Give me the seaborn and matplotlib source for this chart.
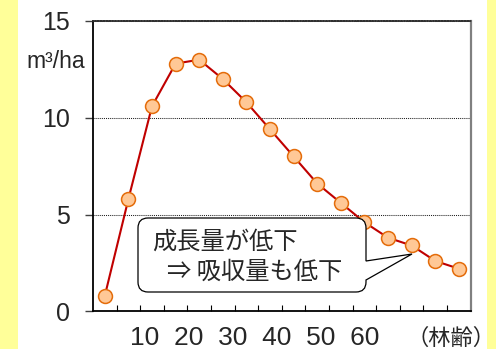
import numpy as np
import pandas as pd
import matplotlib
matplotlib.use("Agg")
import matplotlib.pyplot as plt
import seaborn as sns
from matplotlib.patches import Rectangle, PathPatch
from matplotlib.path import Path

# Annual growth (m³/ha) per 5-year age class
age_class_end = [5, 10, 15, 20, 25, 30, 35, 40, 45, 50, 55, 60, 65, 70, 75, 80]
growth = [0.8, 5.8, 10.6, 12.8, 13.0, 12.0, 10.8, 9.4, 8.0, 6.6, 5.6, 4.6, 3.8, 3.4, 2.6, 2.2]
age_labels = ["10", "20", "30", "40", "50", "60"]
age_title = "（林齢）"
y_ticks = [0, 5, 10, 15]
unit_label = "m³/ha"
note_lines = ["成長量が低下", "⇒ 吸収量も低下"]

sns.set_style("white")
plt.rcParams["font.family"] = ["Liberation Sans", "Noto Sans CJK JP", "DejaVu Sans"]

W, H = 496, 349
fig = plt.figure(figsize=(W / 100, H / 100), dpi=100, facecolor="#FFFF99")

def fx(x):
    return x / W

def fy(y):
    return (H - y) / H

# white panel on the yellow slide background
fig.patches.append(Rectangle((fx(17.5), 0), fx(487) - fx(17.5), 1,
                             transform=fig.transFigure, facecolor="white",
                             edgecolor="none", zorder=-5))

ax = fig.add_axes([fx(93), fy(311.3), fx(470.7) - fx(93), fy(21) - fy(311.3)])
ax.set_facecolor("white")
ax.set_zorder(1)

df = pd.DataFrame({"cls": np.arange(len(growth)), "age": age_class_end, "growth": growth})
sns.lineplot(data=df, x="cls", y="growth", ax=ax, color="#C00000", linewidth=1.5,
             marker="o", markersize=10, markerfacecolor="#FFC896",
             markeredgecolor="#E46C0A", markeredgewidth=1.1, zorder=5)

ax.set_xlim(-0.5, len(growth) - 0.5)
ax.set_ylim(0, 15)
ax.set_xlabel("")
ax.set_ylabel("")

ax.set_yticks(y_ticks)
ax.tick_params(axis="y", direction="out", length=5.8, width=1, pad=10.5,
               labelsize=18, color="#404040", left=True)
ax.set_xticks([])
ax.set_xticks(np.arange(0.5, len(growth) - 0.5, 1), minor=True)
ax.tick_params(axis="x", which="minor", direction="in", length=4.3, width=0.8,
               bottom=True, color="black")

ax.grid(axis="y", color="#202020", linestyle=(0, (1, 1)), linewidth=0.75)
ax.grid(axis="x", visible=False)
for side in ["left", "bottom"]:
    ax.spines[side].set_color("black")
    ax.spines[side].set_linewidth(1.3)
ax.spines["right"].set_color("#808080")
ax.spines["right"].set_linewidth(1.6)
ax.spines["top"].set_color("#303030")
ax.spines["top"].set_linestyle((0, (1, 0.6)))
ax.spines["top"].set_linewidth(1.3)

fig.text(fx(85), fy(62), unit_label, ha="right", va="center", fontsize=16.5)

fig.text(fx(130), fy(345), "  ".join(age_labels), ha="left", va="baseline",
         fontsize=19)
fig.text(fx(495), fy(345), age_title, ha="right", va="baseline", fontsize=16,
         family=["Noto Sans CJK JP", "DejaVu Sans"])

# speech-bubble callout
L, R, T, B, r = 138, 366, 218, 292, 10
verts = [
    (L + r, T), (R - r, T), (R, T), (R, T + r),
    (R, 261), (412, 254), (R, 280),
    (R, B - r), (R, B), (R - r, B),
    (L + r, B), (L, B), (L, B - r),
    (L, T + r), (L, T), (L + r, T),
    (L + r, T),
]
codes = [
    Path.MOVETO, Path.LINETO, Path.CURVE3, Path.CURVE3,
    Path.LINETO, Path.LINETO, Path.LINETO,
    Path.LINETO, Path.CURVE3, Path.CURVE3,
    Path.LINETO, Path.CURVE3, Path.CURVE3,
    Path.LINETO, Path.CURVE3, Path.CURVE3,
    Path.CLOSEPOLY,
]
bubble = Path([(fx(x), fy(y)) for x, y in verts], codes)
fig.patches.append(PathPatch(bubble, transform=fig.transFigure, facecolor="white",
                             edgecolor="black", linewidth=0.9, zorder=10))

fig.text(fx(152), fy(242), note_lines[0], ha="left", va="center", fontsize=17.5,
         family=["Noto Sans CJK JP", "DejaVu Sans"], zorder=11)
fig.text(fx(167), fy(272), note_lines[1], ha="left", va="center", fontsize=17.5,
         family=["Noto Sans CJK JP", "DejaVu Sans"], zorder=11)

fig.savefig("out.png", dpi=100, facecolor=fig.get_facecolor())
